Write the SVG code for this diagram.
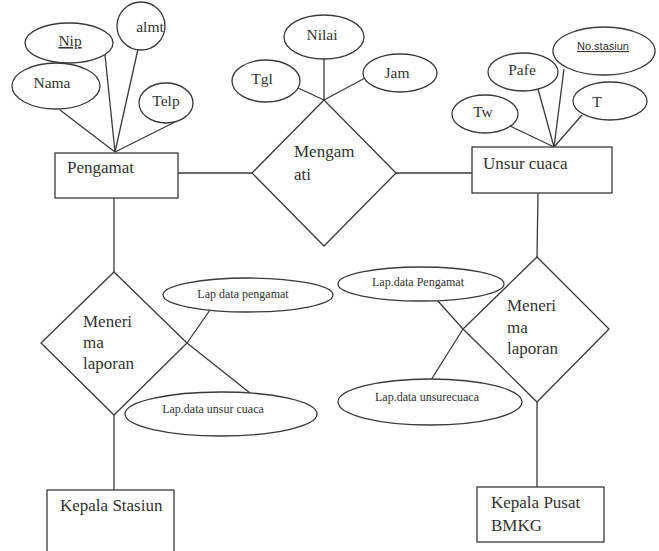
<svg xmlns="http://www.w3.org/2000/svg" width="659" height="551" viewBox="0 0 659 551">
  <style>
    .shape { fill: #ffffff; stroke: #3a3a3a; stroke-width: 1.3; }
    .link { stroke: #3a3a3a; stroke-width: 1.3; fill: none; }
    text { font-family: "Liberation Serif", "Times New Roman", serif; fill: #333333; }
    .ent { font-size: 17px; }
    .attr { font-size: 15.5px; text-anchor: middle; }
    .small { font-size: 12px; text-anchor: middle; }
    .key { text-decoration: underline; }
    .sans { font-family: "Liberation Sans", Arial, sans-serif; font-size: 11px; }
  </style>
  <rect width="659" height="551" fill="#ffffff"/>

  <!-- connectors -->
  <g id="connectors" class="link">
    <!-- Pengamat attributes -->
    <line x1="60" y1="110" x2="115" y2="152"/>
    <line x1="105" y1="55" x2="115" y2="152"/>
    <line x1="138" y1="49" x2="115" y2="152"/>
    <line x1="175" y1="122" x2="115" y2="152"/>
    <!-- Mengamati attributes -->
    <line x1="298" y1="88" x2="324" y2="100"/>
    <line x1="324" y1="59" x2="324" y2="100"/>
    <line x1="365" y1="78" x2="324" y2="100"/>
    <!-- Unsur cuaca attributes -->
    <line x1="510" y1="126" x2="554" y2="147"/>
    <line x1="538" y1="89" x2="554" y2="147"/>
    <line x1="564" y1="69" x2="554" y2="147"/>
    <line x1="582" y1="115" x2="554" y2="147"/>
    <!-- relationships -->
    <line x1="178" y1="173" x2="252" y2="173"/>
    <line x1="396" y1="173" x2="472" y2="173"/>
    <line x1="114" y1="198" x2="114" y2="272"/>
    <line x1="114" y1="415" x2="114" y2="490"/>
    <line x1="538" y1="193" x2="537" y2="257"/>
    <line x1="537" y1="402" x2="537" y2="487"/>
    <!-- report attributes -->
    <line x1="210" y1="310" x2="187" y2="343"/>
    <line x1="187" y1="343" x2="250" y2="393"/>
    <line x1="437" y1="300" x2="463" y2="329"/>
    <line x1="431" y1="380" x2="463" y2="329"/>
  </g>

  <!-- Pengamat entity and attributes -->
  <g id="attr-nip">
    <ellipse class="shape" cx="69" cy="43" rx="44" ry="20"/>
    <text class="attr key" x="70" y="46">Nip</text>
  </g>
  <g id="attr-almt">
    <ellipse class="shape" cx="141" cy="26" rx="24" ry="24"/>
    <text class="attr" x="150" y="32">almt</text>
  </g>
  <g id="attr-nama">
    <ellipse class="shape" cx="56" cy="86" rx="44" ry="23"/>
    <text class="attr" x="52" y="88">Nama</text>
  </g>
  <g id="attr-telp">
    <ellipse class="shape" cx="166" cy="103" rx="27" ry="20"/>
    <text class="attr" x="166" y="106">Telp</text>
  </g>
  <g id="pengamat">
    <rect class="shape" x="55" y="153" width="123" height="45"/>
    <text class="ent" x="67" y="173">Pengamat</text>
  </g>

  <!-- Mengamati relationship and attributes -->
  <g id="attr-nilai">
    <ellipse class="shape" cx="324" cy="37" rx="40" ry="22"/>
    <text class="attr" x="322" y="40">Nilai</text>
  </g>
  <g id="attr-tgl">
    <ellipse class="shape" cx="266" cy="81" rx="34" ry="21"/>
    <text class="attr" x="262" y="84">Tgl</text>
  </g>
  <g id="attr-jam">
    <ellipse class="shape" cx="400" cy="73" rx="37" ry="19"/>
    <text class="attr" x="397" y="78">Jam</text>
  </g>
  <g id="mengamati">
    <polygon class="shape" points="324,100 396,173 324,246 252,173"/>
    <text class="ent" x="294" y="157">Mengam</text>
    <text class="ent" x="294" y="180">ati</text>
  </g>

  <!-- Unsur cuaca entity and attributes -->
  <g id="attr-nostasiun">
    <ellipse class="shape" cx="604" cy="51" rx="51" ry="24"/>
    <text class="sans key" x="603" y="50" text-anchor="middle">No.stasiun</text>
  </g>
  <g id="attr-pafe">
    <ellipse class="shape" cx="523" cy="72" rx="35" ry="19"/>
    <text class="attr" x="522" y="75">Pafe</text>
  </g>
  <g id="attr-t">
    <ellipse class="shape" cx="610" cy="101" rx="37" ry="19"/>
    <text class="attr" x="597" y="107">T</text>
  </g>
  <g id="attr-tw">
    <ellipse class="shape" cx="485" cy="114" rx="33" ry="19"/>
    <text class="attr" x="483" y="117">Tw</text>
  </g>
  <g id="unsur-cuaca">
    <rect class="shape" x="472" y="147" width="140" height="46"/>
    <text class="ent" x="483" y="169">Unsur cuaca</text>
  </g>

  <!-- Menerima laporan (station side) -->
  <g id="menerima-laporan-1">
    <polygon class="shape" points="114,272 187,343 114,415 41,343" style="fill:none"/>
    <text class="ent" x="83" y="327">Meneri</text>
    <text class="ent" x="83" y="348">ma</text>
    <text class="ent" x="83" y="369">laporan</text>
  </g>
  <g id="attr-lap-pengamat-1">
    <ellipse class="shape" cx="248" cy="295" rx="85" ry="17"/>
    <text class="small" x="243" y="298">Lap data pengamat</text>
  </g>
  <g id="attr-lap-unsur-1">
    <ellipse class="shape" cx="221" cy="414" rx="96" ry="22"/>
    <text class="small" x="213" y="413">Lap.data unsur cuaca</text>
  </g>

  <!-- Menerima laporan (BMKG side) -->
  <g id="menerima-laporan-2">
    <polygon class="shape" points="537,257 609,329 537,402 463,329" style="fill:none"/>
    <text class="ent" x="507" y="311">Meneri</text>
    <text class="ent" x="507" y="333">ma</text>
    <text class="ent" x="507" y="354">laporan</text>
  </g>
  <g id="attr-lap-pengamat-2">
    <ellipse class="shape" cx="421" cy="284" rx="83" ry="17"/>
    <text class="small" x="418" y="286">Lap.data Pengamat</text>
  </g>
  <g id="attr-lap-unsur-2">
    <ellipse class="shape" cx="430" cy="402" rx="92" ry="23"/>
    <text class="small" x="427" y="401">Lap.data unsurecuaca</text>
  </g>

  <!-- Heads -->
  <g id="kepala-stasiun">
    <rect class="shape" x="47" y="490" width="127" height="75"/>
    <text class="ent" x="60" y="511">Kepala Stasiun</text>
  </g>
  <g id="kepala-pusat">
    <rect class="shape" x="477" y="487" width="127" height="55"/>
    <text class="ent" x="491" y="508">Kepala Pusat</text>
    <text class="ent" x="491" y="531">BMKG</text>
  </g>
</svg>
